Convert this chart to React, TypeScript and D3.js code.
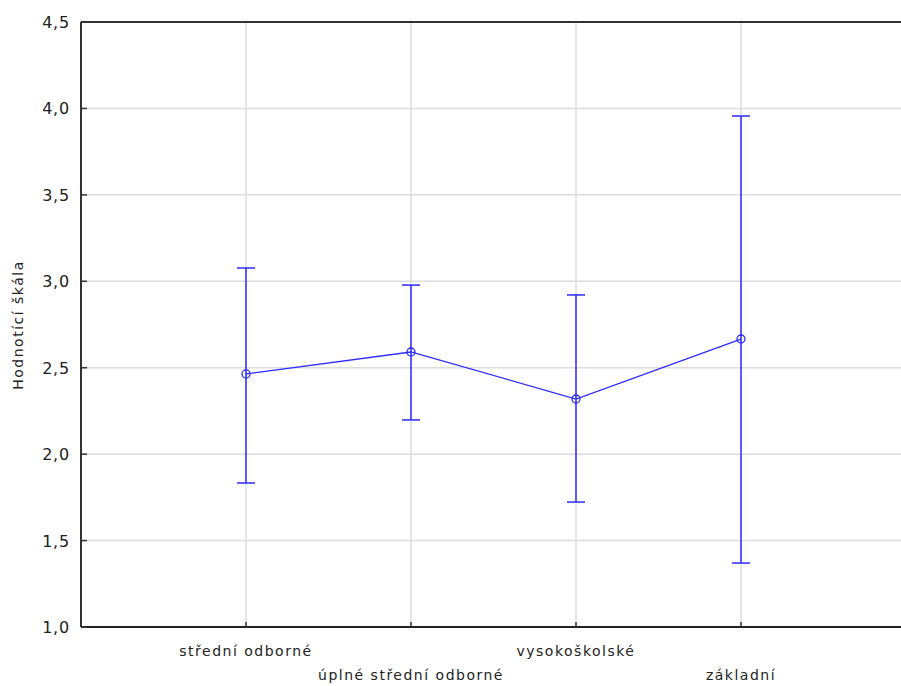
import React from "react";
import * as d3 from "d3";

const categories = ["střední odborné", "úplné střední odborné", "vysokoškolské", "základní"];
const means = [2.464, 2.591, 2.319, 2.666];
const upper = [3.077, 2.978, 2.921, 3.956];
const lower = [1.833, 2.198, 1.723, 1.37];
const yTicks = [1.0, 1.5, 2.0, 2.5, 3.0, 3.5, 4.0, 4.5];
const yLabel = "Hodnotící škála";

export default function App() {
  const W = 901, H = 686;
  const left = 81, top = 22, bottom = 627, right = 906;
  const x = d3.scaleLinear().domain([0, 5]).range([left, right]);
  const y = d3.scaleLinear().domain([1, 4.5]).range([bottom, top]);
  const blue = "#2b2bff";
  const line = d3.line<number>().x((_, i) => x(i + 1)).y((d) => y(d));
  const fmt = (v: number) => v.toFixed(1).replace(".", ",");
  const font = "'DejaVu Sans', Verdana, sans-serif";
  return (
    <svg width={W} height={H} style={{ position: "absolute", left: 0, top: 0, background: "#fff" }}>
      <rect x={0} y={0} width={W} height={H} fill="#fff" />
      {yTicks.slice(1, -1).map((t) => (
        <line key={"hg" + t} x1={left} x2={right} y1={y(t)} y2={y(t)} stroke="#dcdcdc" strokeWidth={1.5} />
      ))}
      {categories.map((c, i) => (
        <line key={"vg" + c} x1={x(i + 1)} x2={x(i + 1)} y1={top} y2={bottom} stroke="#dcdcdc" strokeWidth={1.5} />
      ))}
      {/* frame */}
      <line x1={left} x2={right} y1={top} y2={top} stroke="#333" strokeWidth={2} />
      <line x1={left} x2={left} y1={top} y2={bottom} stroke="#333" strokeWidth={2} />
      <line x1={left} x2={right} y1={bottom} y2={bottom} stroke="#222" strokeWidth={2} />
      {yTicks.map((t) => (
        <g key={"yt" + t}>
          <line x1={left} x2={left + 6} y1={y(t)} y2={y(t)} stroke="#333" strokeWidth={1.5} />
          <text x={70} y={y(t) + 6} textAnchor="end" fontSize={16} letterSpacing={0.8} fontFamily={font} fill="#222">
            {fmt(t)}
          </text>
        </g>
      ))}
      {categories.map((c, i) => (
        <g key={"xt" + c}>
          <line x1={x(i + 1)} x2={x(i + 1)} y1={bottom} y2={bottom - 5} stroke="#333" strokeWidth={1.5} />
          <text x={x(i + 1)} y={i % 2 === 0 ? 656 : 680} textAnchor="middle" fontSize={14} letterSpacing={1.5} fontFamily={font} fill="#222">
            {c}
          </text>
        </g>
      ))}
      <text
        transform={`translate(23,${325}) rotate(-90)`}
        textAnchor="middle"
        fontSize={14}
        letterSpacing={1.5}
        fontFamily={font}
        fill="#222"
      >
        {yLabel}
      </text>
      {/* error bars */}
      {categories.map((c, i) => (
        <g key={"eb" + c} stroke={blue} strokeWidth={1.5}>
          <line x1={x(i + 1)} x2={x(i + 1)} y1={y(upper[i])} y2={y(lower[i])} />
          <line x1={x(i + 1) - 9} x2={x(i + 1) + 9} y1={y(upper[i])} y2={y(upper[i])} />
          <line x1={x(i + 1) - 9} x2={x(i + 1) + 9} y1={y(lower[i])} y2={y(lower[i])} />
        </g>
      ))}
      <path d={line(means) || ""} fill="none" stroke={blue} strokeWidth={1.3} />
      {means.map((m, i) => (
        <circle key={"pt" + i} cx={x(i + 1)} cy={y(m)} r={4} fill="none" stroke={blue} strokeWidth={1.3} />
      ))}
    </svg>
  );
}
